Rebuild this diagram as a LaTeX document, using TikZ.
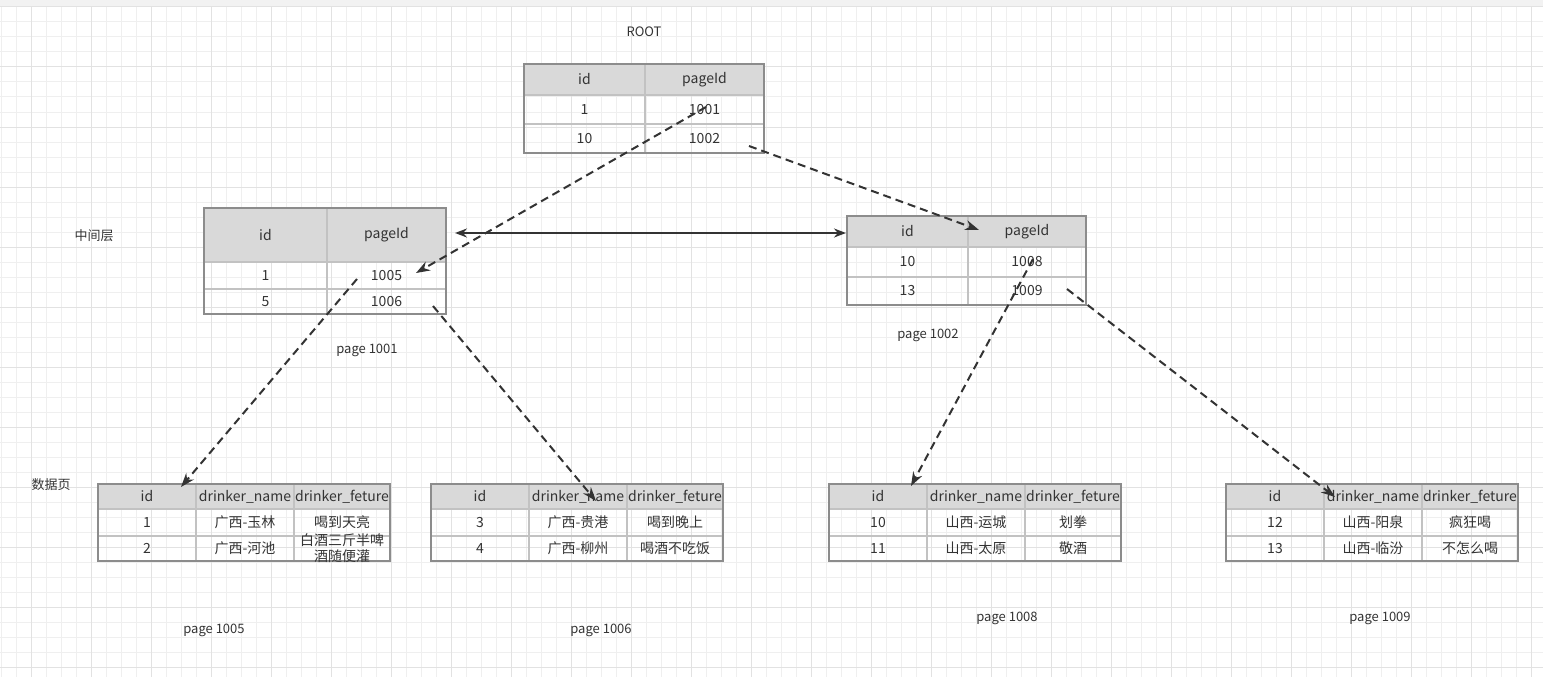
\documentclass[tikz,border=0pt]{standalone}
\usepackage{fontspec}
\setmainfont{Noto Sans CJK SC}
\usetikzlibrary{arrows.meta, positioning}
\definecolor{txtgray}{HTML}{333333}
\definecolor{hdrgray}{HTML}{D9D9D9}
\definecolor{outgray}{HTML}{8C8C8C}
\definecolor{ingray}{HTML}{C2C2C2}
\definecolor{minorgray}{HTML}{EFEFEF}
\definecolor{majorgray}{HTML}{E2E2E2}
\definecolor{topgray}{HTML}{F2F2F2}
\tikzset{
  hdr/.style={fill=hdrgray},
  outer/.style={draw=outgray, line width=2pt},
  inner/.style={draw=ingray, line width=1.5pt},
  txt/.style={text=txtgray, font=\fontsize{14}{16}\selectfont, inner sep=0pt, align=center},
  lbl/.style={text=txtgray, font=\fontsize{13}{15}\selectfont, inner sep=0pt},
  link/.style={draw=txtgray, line width=2pt, dash pattern=on 8pt off 5pt, -{Stealth[length=14pt,width=10pt]}},
  both/.style={draw=txtgray, line width=2pt, {Stealth[length=12pt,width=9pt]}-{Stealth[length=12pt,width=9pt]}},
}

\begin{document}
\begin{tikzpicture}[x=1pt,y=-1pt]
  \useasboundingbox (0,0) rectangle (1543,677);
  % grid
  \fill[topgray] (0,0) rectangle (1543,7);
  \foreach \x in {1,16,...,1543} \draw[minorgray, line width=1pt] (\x,7) -- (\x,677);
  \foreach \y in {7,22,...,677} \draw[minorgray, line width=1pt] (0,\y) -- (1543,\y);
  \foreach \x in {31,91,...,1543} \draw[majorgray, line width=1pt] (\x,7) -- (\x,677);
  \foreach \y in {7,67,...,677} \draw[majorgray, line width=1pt] (0,\y) -- (1543,\y);

  % labels
  \node[lbl] (root) at (644,32) {ROOT};
  \node[lbl] (mid) at (94,236) {中间层};
  \node[lbl] (data) at (51,485) {数据页};

  % root page
  \fill[hdr] (524,64) rectangle (764,95);
  \draw[inner] (645,64) -- (645,153) (524,95) -- (764,95) (524,124) -- (764,124);
  \draw[outer] (524,64) rectangle (764,153);
  \node[txt] (r-id) at (584.5,79.5) {id};
  \node[txt] (r-pg) at (704.5,79.5) {pageId};
  \node[txt] (r-1) at (584.5,109.5) {1};
  \node[txt] (r-1001) at (704.5,109.5) {1001};
  \node[txt] (r-10) at (584.5,138.5) {10};
  \node[txt] (r-1002) at (704.5,138.5) {1002};

  % page 1001
  \fill[hdr] (204,208) rectangle (446,262);
  \draw[inner] (327,208) -- (327,314) (204,262) -- (446,262) (204,289) -- (446,289);
  \draw[outer] (204,208) rectangle (446,314);
  \node[txt] (a-id) at (265.5,235) {id};
  \node[txt] (a-pg) at (386.5,235) {pageId};
  \node[txt] (a-1) at (265.5,275.5) {1};
  \node[txt] (a-1005) at (386.5,275.5) {1005};
  \node[txt] (a-5) at (265.5,301.5) {5};
  \node[txt] (a-1006) at (386.5,301.5) {1006};
  \node[lbl] (pa) at (367,350) {page 1001};

  % page 1002
  \fill[hdr] (847,216) rectangle (1086,247);
  \draw[inner] (968,216) -- (968,305) (847,247) -- (1086,247) (847,277) -- (1086,277);
  \draw[outer] (847,216) rectangle (1086,305);
  \node[txt] (b-id) at (907.5,231.5) {id};
  \node[txt] (b-pg) at (1027,231.5) {pageId};
  \node[txt] (b-10) at (907.5,262) {10};
  \node[txt] (b-1008) at (1027,262) {1008};
  \node[txt] (b-13) at (907.5,291) {13};
  \node[txt] (b-1009) at (1027,291) {1009};
  \node[lbl] (pb) at (928,335) {page 1002};

  % data pages
  \foreach \tx/\pg/\ia/\na/\fa/\ib/\nb/\fb in {
      98/1005/1/广西-玉林/喝到天亮/2/广西-河池/{白酒三斤半啤\\酒随便灌},
      431/1006/3/广西-贵港/喝到晚上/4/广西-柳州/喝酒不吃饭,
      829/1008/10/山西-运城/划拳/11/山西-太原/敬酒,
      1226/1009/12/山西-阳泉/疯狂喝/13/山西-临汾/不怎么喝} {
    \begin{scope}[shift={(\tx,484)}]
      \fill[hdr] (0,0) rectangle (292,25);
      \draw[inner] (98,0) -- (98,77) (196,0) -- (196,77) (0,25) -- (292,25) (0,52) -- (292,52);
      \draw[outer] (0,0) rectangle (292,77);
      \node[txt] (p\pg-id) at (49,12.5) {id};
      \node[txt] (p\pg-nm) at (147,12.5) {drinker\_name};
      \node[txt] (p\pg-ft) at (244,12.5) {drinker\_feture};
      \node[txt] (p\pg-a1) at (49,38.5) {\ia};
      \node[txt] (p\pg-a2) at (147,38.5) {\na};
      \node[txt] (p\pg-a3) at (244,38.5) {\fa};
      \node[txt] (p\pg-b1) at (49,64.5) {\ib};
      \node[txt] (p\pg-b2) at (147,64.5) {\nb};
      \node[txt] (p\pg-b3) at (244,64.5) {\fb};
    \end{scope}
  }
  \node[lbl] (p1005) at (214,630) {page 1005};
  \node[lbl] (p1006) at (601,630) {page 1006};
  \node[lbl] (p1008) at (1007,618) {page 1008};
  \node[lbl] (p1009) at (1380,618) {page 1009};

  % link ends
  \coordinate (s1) at (706,107);  \coordinate (e1) at (416,273);
  \coordinate (s2) at (749,146);  \coordinate (e2) at (979,230);
  \coordinate (s3) at (357,279);  \coordinate (e3) at (181,487);
  \coordinate (s4) at (433,306);  \coordinate (e4) at (596,501);
  \coordinate (s5) at (1033,259); \coordinate (e5) at (911,486);
  \coordinate (s6) at (1067,289); \coordinate (e6) at (1335,497);
  \coordinate (l) at (455,233);   \coordinate (r) at (846,233);

  % links
  \draw[link] (s1) -- (e1);
  \draw[link] (s2) -- (e2);
  \draw[link] (s3) -- (e3);
  \draw[link] (s4) -- (e4);
  \draw[link] (s5) -- (e5);
  \draw[link] (s6) -- (e6);
  \draw[both] (l) -- (r);
\end{tikzpicture}
\end{document}
